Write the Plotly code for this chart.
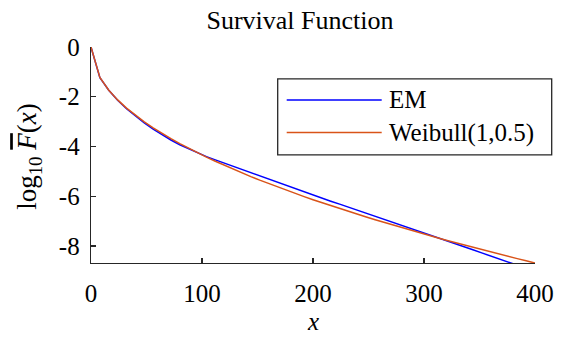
import plotly.graph_objects as go

# ---- data ----
x_vals = [0, 8, 16, 24, 32, 40, 48, 56, 64, 72, 80, 88, 96, 104, 112, 120, 128, 136, 144,
          152, 160, 168, 176, 184, 192, 200, 208, 216, 224, 232, 240, 248, 256, 264, 272,
          280, 288, 296, 304, 312, 320, 328, 336, 344, 352, 360, 368, 376, 384, 392, 400]

em_vals = [0, -1.23, -1.74, -2.14, -2.48, -2.78, -3.05, -3.30, -3.53, -3.74, -3.93, -4.10,
           -4.27, -4.41, -4.54, -4.67, -4.80, -4.93, -5.06, -5.19, -5.32, -5.45, -5.58,
           -5.70, -5.83, -5.96, -6.08, -6.20, -6.32, -6.44, -6.56, -6.69, -6.81, -6.93,
           -7.05, -7.17, -7.29, -7.41, -7.53, -7.65, -7.78, -7.90, -8.03, -8.15, -8.28,
           -8.40, -8.53, -8.65, -8.77, -8.90, -9.02]

weibull_vals = [0, -1.228, -1.737, -2.128, -2.457, -2.747, -3.009, -3.250, -3.474, -3.685,
                -3.884, -4.074, -4.255, -4.429, -4.596, -4.757, -4.913, -5.065, -5.211,
                -5.354, -5.493, -5.629, -5.761, -5.891, -6.018, -6.142, -6.263, -6.383,
                -6.500, -6.615, -6.728, -6.839, -6.949, -7.056, -7.162, -7.267, -7.370,
                -7.472, -7.572, -7.671, -7.769, -7.865, -7.961, -8.055, -8.148, -8.240,
                -8.331, -8.421, -8.510, -8.599, -8.686]

series_names = ["EM", "Weibull(1,0.5)"]
series_colors = ["#0000FF", "#D95319"]

x_ticks = [0, 100, 200, 300, 400]
x_tick_labels = ["0", "100", "200", "300", "400"]
y_ticks = [0, -2, -4, -6, -8]
y_tick_labels = ["0", "-2", "-4", "-6", "-8"]

# ---- layout geometry (pixels) ----
W, H = 564, 337
L, R, T, B = 91, 535, 47, 263.3
FONT = "Liberation Serif"
AX = "#262626"
FS = 25


def px_x(p):
    return (p - L) / (R - L)


def px_y(p):
    return (B - p) / (B - T)


fig = go.Figure()
for name, vals, col in zip(series_names, [em_vals, weibull_vals], series_colors):
    fig.add_trace(go.Scatter(x=x_vals, y=vals, mode="lines", name=name,
                             line=dict(color=col, width=1.5), showlegend=False,
                             hoverinfo="skip"))

axis_common = dict(showgrid=False, zeroline=False, showline=True, linecolor=AX,
                   linewidth=1.3, ticks="inside", ticklen=5, tickwidth=1.3,
                   tickcolor=AX, mirror=False, automargin=False,
                   tickfont=dict(family=FONT, size=FS, color="black"))

fig.update_xaxes(range=[0, 400], tickvals=x_ticks, ticktext=x_tick_labels,
                 ticklabelstandoff=8, **axis_common)
fig.update_yaxes(range=[-8.686, 0], tickvals=y_ticks, ticktext=y_tick_labels,
                 ticklabelstandoff=5, **axis_common)

# manual legend (MATLAB style)
shapes = [dict(type="rect", xref="paper", yref="paper",
               x0=px_x(277.7), x1=px_x(551.7), y0=px_y(155), y1=px_y(79),
               line=dict(color=AX, width=1.3), fillcolor="white", layer="above")]
annotations = []
rows_y = [100, 132.7]
for name, col, ry in zip(series_names, series_colors, rows_y):
    shapes.append(dict(type="line", xref="paper", yref="paper",
                       x0=px_x(286.7), x1=px_x(381.7), y0=px_y(ry), y1=px_y(ry),
                       line=dict(color=col, width=1.5), layer="above"))
    annotations.append(dict(xref="paper", yref="paper", x=px_x(387), y=px_y(ry),
                            xanchor="left", yanchor="middle", text=name, showarrow=False,
                            font=dict(family=FONT, size=FS, color="black")))

# axis titles
annotations.append(dict(xref="paper", yref="paper", x=px_x(313), y=px_y(336.5),
                        xanchor="center", yanchor="bottom", text="<i>x</i>", borderpad=0,
                        showarrow=False, font=dict(family=FONT, size=FS, color="black")))
annotations.append(dict(xref="paper", yref="paper", x=px_x(29), y=px_y(157),
                        xanchor="center", yanchor="middle", textangle=-90,
                        text="log<sub>10</sub> <span style=\"text-decoration:overline\"><i>F</i></span>(<i>x</i>)",
                        showarrow=False, font=dict(family=FONT, size=27, color="black")))

fig.update_layout(
    width=W, height=H,
    margin=dict(l=L, r=W - R, t=T, b=H - B, autoexpand=False),
    paper_bgcolor="white", plot_bgcolor="white",
    title=dict(text="Survival Function", x=300 / W,
               xanchor="center", y=1 - 20 / H, yanchor="middle",
               font=dict(family=FONT, size=26, color="black")),
    shapes=shapes, annotations=annotations, showlegend=False,
    hovermode=False,
)

fig.write_html("out.html", config={"displayModeBar": False, "staticPlot": True},
               post_script="document.body.style.margin='0px';")
